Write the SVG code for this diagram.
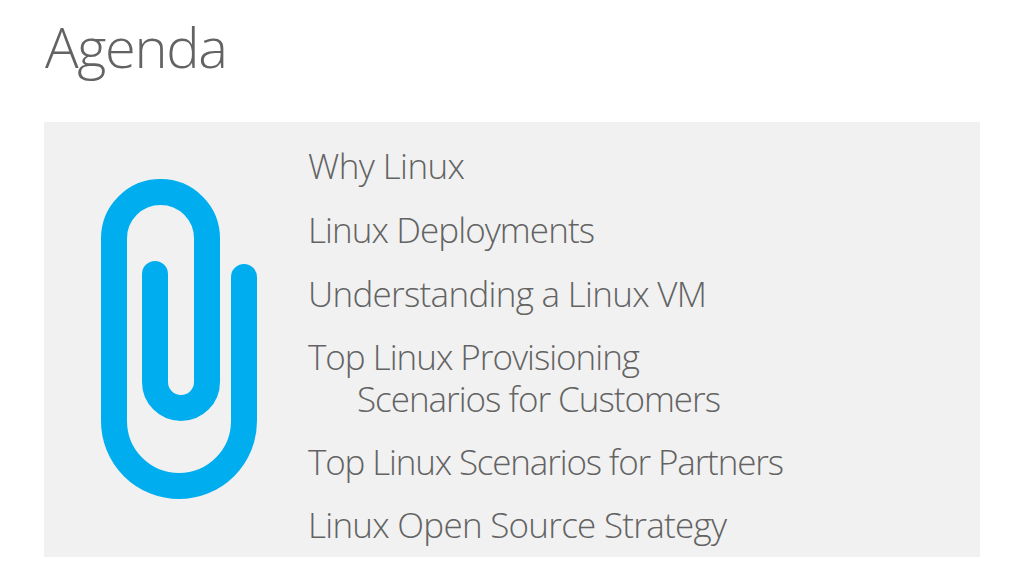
<svg xmlns="http://www.w3.org/2000/svg" width="1024" height="576" viewBox="0 0 1024 576">
<style>
text{font-family:"Open Sans","Noto Sans","Liberation Sans",sans-serif;font-weight:300;fill:#636363}
.i{font-size:35px}
</style>
<rect width="1024" height="576" fill="#fff"/>
<rect x="44" y="122" width="936" height="435" fill="#f1f1f1"/>
<text x="45" y="68" font-size="56" textLength="183" lengthAdjust="spacing">Agenda</text>
<path id="clip" d="M244 277V421A65 65 0 0 1 114 421V238.500A46.500 46.500 0 0 1 207 238.500V382A26 26 0 0 1 155 382V274" fill="none" stroke="#00aeef" stroke-width="26" stroke-linecap="round"/>
<text class="i" x="308" y="179" textLength="157" lengthAdjust="spacing">Why Linux</text>
<text class="i" x="308" y="243" textLength="287" lengthAdjust="spacing">Linux Deployments</text>
<text class="i" x="308" y="306.500" textLength="399" lengthAdjust="spacing">Understanding a Linux VM</text>
<text class="i" x="308" y="369.500" textLength="332" lengthAdjust="spacing">Top Linux Provisioning</text>
<text class="i" x="357" y="411.500" textLength="364" lengthAdjust="spacing">Scenarios for Customers</text>
<text class="i" x="308" y="474.500" textLength="476" lengthAdjust="spacing">Top Linux Scenarios for Partners</text>
<text class="i" x="308" y="538" textLength="419" lengthAdjust="spacing">Linux Open Source Strategy</text>
</svg>
